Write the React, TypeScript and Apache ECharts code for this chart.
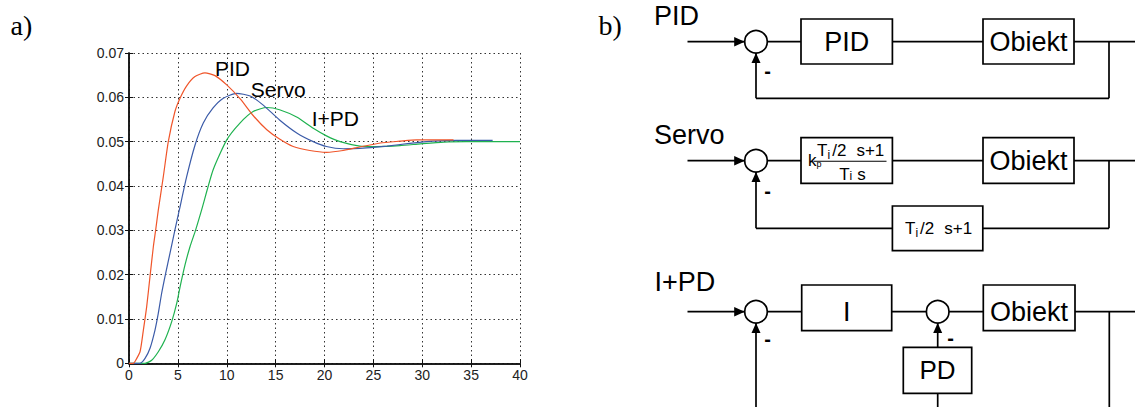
import React, { useEffect, useRef } from "react";
import * as echarts from "echarts";

// ---- data ----
const pidData: [number, number][] = [
  [0, 0], [0.44, 0], [0.61, 0.0004], [1.13, 0.0026], [1.47, 0.0075], [1.81, 0.0128],
  [2.15, 0.0196], [2.49, 0.0263], [2.73, 0.0301], [3.0, 0.0346], [3.51, 0.0421],
  [4.02, 0.05], [4.7, 0.0568], [5.22, 0.0598], [5.9, 0.0626], [6.75, 0.0647],
  [7.77, 0.0655], [8.8, 0.0649], [10.0, 0.0628], [11.4, 0.0596], [12.7, 0.0559],
  [14.1, 0.0527], [15.4, 0.0506], [16.8, 0.0489], [18.5, 0.048], [20.2, 0.0476],
  [21.9, 0.048], [23.6, 0.0488], [25.7, 0.0497], [27.7, 0.0501], [29.4, 0.0504],
  [31.1, 0.0504], [33.2, 0.0504],
];
const servoData: [number, number][] = [
  [0, 0], [1.13, 0], [1.64, 0.0011], [2.15, 0.0034], [2.66, 0.0075], [3.0, 0.0113],
  [3.34, 0.0158], [3.75, 0.0203], [4.19, 0.0248], [4.7, 0.0301], [5.15, 0.0346],
  [5.9, 0.0421], [6.75, 0.0492], [7.6, 0.0542], [8.6, 0.0576], [9.65, 0.0598],
  [11.0, 0.0609], [12.4, 0.0603], [13.7, 0.0583], [15.4, 0.0549], [17.2, 0.0519],
  [18.85, 0.05], [20.2, 0.0489], [21.9, 0.0484], [24.3, 0.0486], [26.4, 0.049],
  [28.7, 0.0496], [31.1, 0.0501], [33.5, 0.0503], [37.2, 0.0503],
];
const ipdData: [number, number][] = [
  [0, 0], [1.64, 0], [2.32, 0.0007], [3.0, 0.0026], [3.68, 0.0053], [4.37, 0.0094],
  [4.88, 0.0135], [5.22, 0.0172], [5.73, 0.0222], [6.24, 0.0263], [6.82, 0.0301],
  [7.43, 0.0346], [8.6, 0.0436], [10.0, 0.0504], [11.35, 0.0542], [12.7, 0.0568],
  [14.1, 0.0577], [15.4, 0.0572], [17.2, 0.0555], [18.85, 0.053], [20.2, 0.0513],
  [21.6, 0.05], [23.6, 0.049], [25.3, 0.0489], [27.7, 0.0491], [29.8, 0.0495],
  [32.2, 0.0499], [34.5, 0.05], [40, 0.05],
];
const seriesNames = ["PID", "Servo", "I+PD"];
const seriesColors = ["#f0552a", "#3b5ba8", "#1fb24f"];
const yTickLabels = ["0", "0.01", "0.02", "0.03", "0.04", "0.05", "0.06", "0.07"];
const xTickLabels = ["0", "5", "10", "15", "20", "25", "30", "35", "40"];

const SANS = '"Liberation Sans", Arial, sans-serif';
const SERIF = '"Liberation Serif", "Times New Roman", serif';
const LW = 1.7;

function txt(text: string, x: number, y: number, size: number, align = "center", family = SANS, weight = "normal") {
  return {
    type: "text", x, y, silent: true,
    style: {
      text, fontSize: size, fontFamily: family, fontWeight: weight, fill: "#000",
      align, verticalAlign: "middle", textAlign: align, textVerticalAlign: "middle",
    },
  };
}
function ln(x1: number, y1: number, x2: number, y2: number, w = LW) {
  return { type: "line", silent: true, shape: { x1, y1, x2, y2 }, style: { stroke: "#000", lineWidth: w } };
}
function box(x: number, y: number, w: number, h: number) {
  return { type: "rect", silent: true, shape: { x, y, width: w, height: h }, style: { fill: "#fff", stroke: "#000", lineWidth: LW } };
}
function circ(cx: number, cy: number) {
  return { type: "circle", silent: true, shape: { cx, cy, r: 11.3 }, style: { fill: "#fff", stroke: "#000", lineWidth: LW } };
}
function arrowRight(x: number, y: number) {
  return { type: "polygon", silent: true, shape: { points: [[x, y], [x - 10.5, y - 4.8], [x - 10.5, y + 4.8]] }, style: { fill: "#000" } };
}
function arrowUp(x: number, y: number) {
  return { type: "polygon", silent: true, shape: { points: [[x, y], [x - 4.5, y + 10], [x + 4.5, y + 10]] }, style: { fill: "#000" } };
}

function diagram(): any[] {
  const g: any[] = [];
  const R = 11.3;
  const cx = 756;
  g.push(txt("a)", 10.5, 25.5, 28, "left", SERIF));
  g.push(txt("b)", 598.5, 25.5, 28, "left", SERIF));

  // Row 1 : PID
  let y = 41.7;
  g.push(txt("PID", 654, 16.2, 27, "left"));
  g.push(ln(687.5, y, cx - R, y), arrowRight(cx - R, y));
  g.push(ln(cx + R, y, 801, y), ln(892.4, y, 983, y), ln(1074, y, 1135, y));
  g.push(ln(1109, y, 1109, 98.3), ln(1109, 98.3, cx, 98.3), ln(cx, 98.3, cx, y + R));
  g.push(circ(cx, y), arrowUp(cx, y + R));
  g.push(box(801, 19, 91.4, 45), txt("PID", 846.7, y, 27));
  g.push(box(983, 19, 91, 45), txt("Obiekt", 1028.5, y, 27));
  g.push(txt("-", 767.5, 70.5, 20, "center", SANS, "bold"));

  // Row 2 : Servo
  y = 160.7;
  g.push(txt("Servo", 654, 134.5, 27, "left"));
  g.push(ln(687.5, y, cx - R, y), arrowRight(cx - R, y));
  g.push(ln(cx + R, y, 801, y), ln(892.4, y, 983, y), ln(1074, y, 1135, y));
  g.push(ln(1109, y, 1109, 228.3), ln(1109, 228.3, 982.8, 228.3), ln(892.4, 228.3, cx, 228.3), ln(cx, 228.3, cx, y + R));
  g.push(circ(cx, y), arrowUp(cx, y + R));
  g.push(box(801, 137.7, 91.4, 45.6));
  g.push(txt("k", 808, 160.3, 17, "left"));
  g.push(txt("p", 816.5, 164, 9, "left"));
  g.push(txt("T", 817, 150.8, 17, "left"));
  g.push(txt("i", 827.6, 155.2, 12, "left"));
  g.push(txt("/2", 832.2, 150.8, 17, "left"));
  g.push(txt("s+1", 856.4, 150.8, 17, "left"));
  g.push(ln(813.5, 161.2, 886.5, 161.2, 1.1));
  g.push(txt("T", 839.3, 174.2, 17, "left"));
  g.push(txt("i", 849.5, 176, 12, "left"));
  g.push(txt("s", 857.3, 174.2, 17, "left"));
  g.push(box(983, 137.7, 91, 45.6), txt("Obiekt", 1028.5, y, 27));
  g.push(box(892.4, 206, 90.4, 44.7));
  g.push(txt("T", 905, 228.3, 17, "left"));
  g.push(txt("i", 915.5, 232.5, 12, "left"));
  g.push(txt("/2", 920, 228.3, 17, "left"));
  g.push(txt("s+1", 944.2, 228.3, 17, "left"));
  g.push(txt("-", 767.5, 190.5, 20, "center", SANS, "bold"));

  // Row 3 : I+PD
  y = 311.7;
  const c2 = 937.7;
  g.push(txt("I+PD", 654.5, 282, 27, "left"));
  g.push(ln(687.5, y, cx - R, y), arrowRight(cx - R, y));
  g.push(ln(cx + R, y, 801.7, y), ln(891.7, y, c2 - R, y), ln(c2 + R, y, 983.3, y), ln(1075, y, 1135, y));
  g.push(ln(1109.3, y, 1109.3, 407), ln(cx, 407, cx, y + R));
  g.push(ln(c2, 347.3, c2, y + R), ln(c2, 393.3, c2, 407));
  g.push(circ(cx, y), arrowUp(cx, y + R), circ(c2, y), arrowUp(c2, y + R));
  g.push(box(801.7, 285, 90, 45.7), txt("I", 846.7, y, 27));
  g.push(box(983.3, 285, 91.7, 45.7), txt("Obiekt", 1029, y, 27));
  g.push(box(903.3, 347.3, 68.4, 46), txt("PD", 937.5, 370.3, 26));
  g.push(txt("-", 767.5, 339, 20, "center", SANS, "bold"));
  g.push(txt("-", 950.5, 338, 20, "center", SANS, "bold"));

  // curve labels
  g.push(txt(seriesNames[0], 215, 68.3, 21, "left"));
  g.push(txt(seriesNames[1], 250.7, 89.2, 21, "left"));
  g.push(txt(seriesNames[2], 311.7, 118.7, 21, "left"));
  return g;
}

export default function App() {
  const ref = useRef<HTMLDivElement>(null);
  useEffect(() => {
    document.body.style.margin = "0";
    if (!ref.current) return;
    const chart = echarts.init(ref.current, undefined, { renderer: "svg" });
    const gridLine = { show: true, lineStyle: { color: "#333", width: 1, type: [1.5, 3] as any } };
    const frame = { show: true, lineStyle: { color: "#111", width: 1.5 } };
    const tick = { show: true, inside: true, length: 4, lineStyle: { color: "#111", width: 1 } };
    const labelStyle = { color: "#222", fontSize: 14, fontFamily: SANS };
    chart.setOption({
      animation: false,
      backgroundColor: "#fff",
      grid: { left: 129, top: 53, width: 391, height: 310.3, containLabel: false },
      xAxis: [
        {
          type: "value", min: 0, max: 40, interval: 5, position: "bottom",
          axisLine: frame, axisTick: tick, splitLine: gridLine,
          axisLabel: { ...labelStyle, margin: 5, formatter: (v: number) => xTickLabels[Math.round(v / 5)] },
        },
        {
          type: "value", min: 0, max: 40, interval: 5, position: "top",
          axisLine: frame, axisTick: tick, splitLine: { show: false }, axisLabel: { show: false },
        },
      ],
      yAxis: [
        {
          type: "value", min: 0, max: 0.07, interval: 0.01, position: "left",
          axisLine: frame, axisTick: tick, splitLine: gridLine,
          axisLabel: { ...labelStyle, margin: 5, formatter: (v: number) => yTickLabels[Math.round(v / 0.01)] },
        },
        {
          type: "value", min: 0, max: 0.07, interval: 0.01, position: "right",
          axisLine: frame, axisTick: tick, splitLine: { show: false }, axisLabel: { show: false },
        },
      ],
      series: [pidData, servoData, ipdData].map((d, i) => ({
        name: seriesNames[i], type: "line", data: d, xAxisIndex: 0, yAxisIndex: 0,
        showSymbol: false, smooth: 0.2,
        lineStyle: { color: seriesColors[i], width: 1.2 }, itemStyle: { color: seriesColors[i] },
        z: 5 - i,
      })),
      graphic: diagram(),
    });
    return () => chart.dispose();
  }, []);
  return <div ref={ref} style={{ width: 1135, height: 407 }} />;
}
